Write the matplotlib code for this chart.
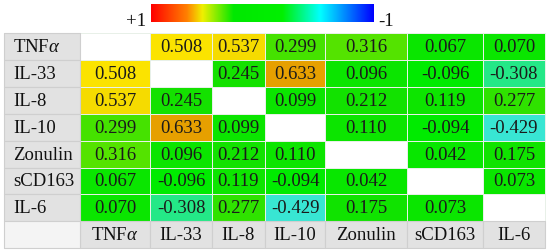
import numpy as np
import matplotlib
matplotlib.use("Agg")
import matplotlib.pyplot as plt
from matplotlib.colors import LinearSegmentedColormap

# Correlation matrix (diagonal left blank)
labels = ["TNFα", "IL-33", "IL-8", "IL-10", "Zonulin", "sCD163", "IL-6"]
tnfa    = [np.nan, 0.508, 0.537, 0.299, 0.316, 0.067, 0.070]
il33    = [0.508, np.nan, 0.245, 0.633, 0.096, -0.096, -0.308]
il8     = [0.537, 0.245, np.nan, 0.099, 0.212, 0.119, 0.277]
il10    = [0.299, 0.633, 0.099, np.nan, 0.110, -0.094, -0.429]
zonulin = [0.316, 0.096, 0.212, 0.110, np.nan, 0.042, 0.175]
scd163  = [0.067, -0.096, 0.119, -0.094, 0.042, np.nan, 0.073]
il6     = [0.070, -0.308, 0.277, -0.429, 0.175, 0.073, np.nan]

mat = np.array([tnfa, il33, il8, il10, zonulin, scd163, il6])

plt.rcParams['font.family'] = ['Liberation Serif', 'DejaVu Serif']
plt.rcParams['mathtext.fontset'] = 'custom'
plt.rcParams['mathtext.rm'] = 'Liberation Serif'
plt.rcParams['mathtext.it'] = 'Liberation Serif:italic'

# cell colour scale: -1 blue ... 0 green ... +1 red
nodes = [(-1.0, (0, 0, 255)), (-0.45, (60, 230, 225)), (-0.1, (0, 235, 0)),
         (0.25, (20, 225, 0)), (0.5, (255, 232, 0)), (0.55, (242, 215, 0)),
         (0.64, (230, 160, 0)), (1.0, (255, 0, 0))]
cmap = LinearSegmentedColormap.from_list(
    "rg", [((v + 1) / 2, tuple(c / 255 for c in rgb)) for v, rgb in nodes])

# legend bar colours (left +1 to right -1)
bar_nodes = [(0.0, "#ff0000"), (0.16, "#ff8000"), (0.23, "#f0f000"), (0.37, "#00e800"),
             (0.59, "#00f000"), (0.76, "#00ffff"), (1.0, "#0000ff")]
bar_cmap = LinearSegmentedColormap.from_list("bar", bar_nodes)

fig = plt.figure(figsize=(5.5, 2.52), dpi=100)
ax = fig.add_axes([0, 0, 1, 1])
ax.set_xlim(0, 550)
ax.set_ylim(252, 0)
ax.axis("off")

# table layout (pixels)
col_edges = np.array([4, 80, 150, 212, 265, 325, 407, 483, 545])
top, row_h = 33, 26.9
row_edges = top + row_h * np.arange(len(labels) + 2)
grey = "#e2e2e2"
line = "#cfcfcf"
fs = 13.5

n = len(labels)
# data cells
masked = np.ma.masked_invalid(mat)
ax.pcolormesh(col_edges[1:], row_edges[:n + 1], masked, cmap=cmap, vmin=-1, vmax=1,
              edgecolors="#e8f0e8", linewidth=0.6)

# label column and header row
for i in range(n):
    ax.fill_between([col_edges[0], col_edges[1]], row_edges[i], row_edges[i + 1],
                    color=grey, ec=line, lw=0.8)
    ax.text(col_edges[0] + 9, (row_edges[i] + row_edges[i + 1]) / 2 + 1,
            labels[i].replace("α", "$α$"), ha="left", va="center", fontsize=fs, color="#111")
for j in range(n):
    ax.fill_between([col_edges[j + 1], col_edges[j + 2]], row_edges[n], row_edges[n + 1],
                    color=grey, ec=line, lw=0.8)
    ax.text((col_edges[j + 1] + col_edges[j + 2]) / 2, (row_edges[n] + row_edges[n + 1]) / 2 + 1,
            labels[j].replace("α", "$α$"), ha="center", va="center", fontsize=fs, color="#111")
ax.fill_between([col_edges[0], col_edges[1]], row_edges[n], row_edges[n + 1],
                color="#f4f4f4", ec=line, lw=0.8)

# values
for i in range(n):
    for j in range(n):
        v = mat[i, j]
        if np.isnan(v):
            continue
        ax.text((col_edges[j + 1] + col_edges[j + 2]) / 2, (row_edges[i] + row_edges[i + 1]) / 2 + 1,
                f"{v:.3f}", ha="center", va="center", fontsize=fs, color="#1a1a1a")

# colour bar (+1 left, -1 right)
grad = np.linspace(0, 1, 256).reshape(1, -1)
ax.imshow(grad, cmap=bar_cmap, vmin=0, vmax=1, extent=[151, 374, 22, 4], aspect="auto")
ax.text(146, 21, "+1", ha="right", va="center", fontsize=fs, color="#111")
ax.text(378, 21, "-1", ha="left", va="center", fontsize=fs, color="#111")

fig.savefig("out.png", dpi=100)
